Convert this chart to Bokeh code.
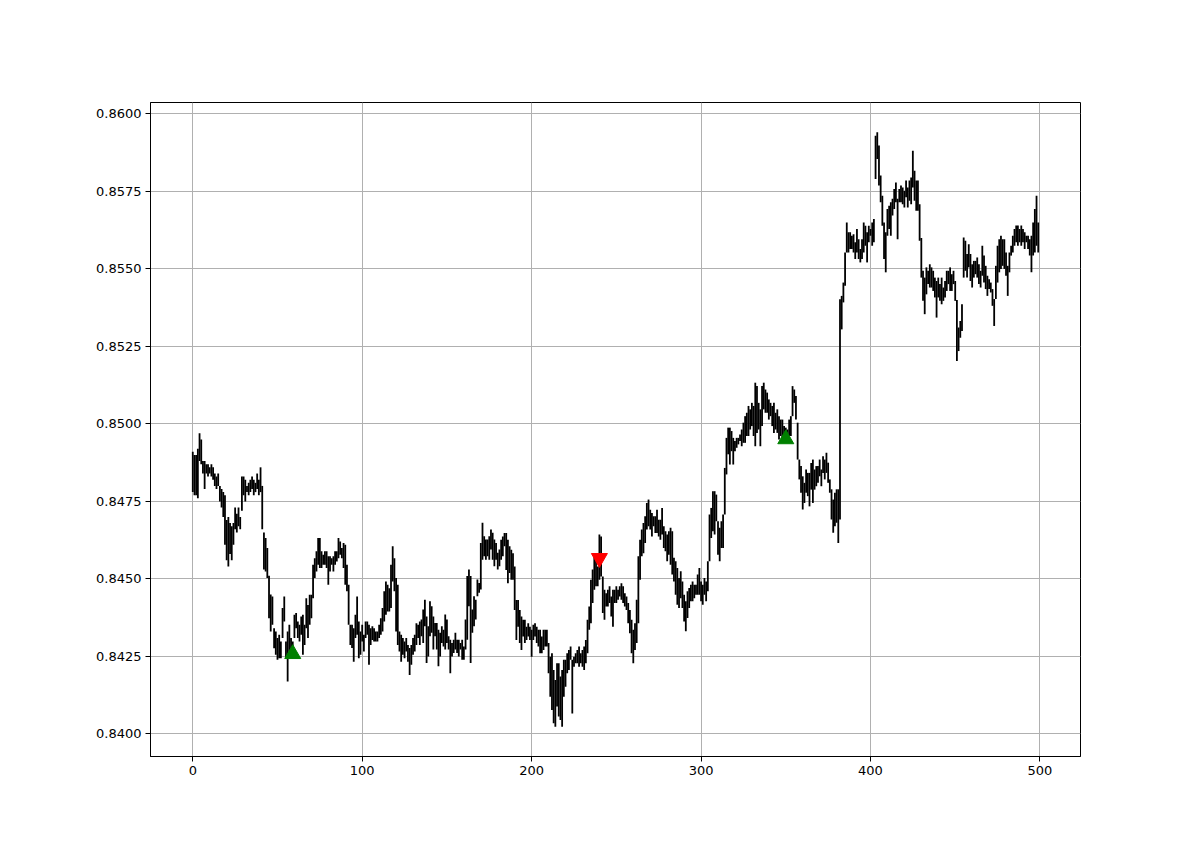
from bokeh.plotting import figure
from bokeh.models import Range1d, FixedTicker, PrintfTickFormatter, ColumnDataSource
from bokeh.embed import file_html
from bokeh.resources import INLINE

# price x 100000, one entry per bar (0..499)
high_e5 = [
84910, 84900, 84900, 84920, 84970, 84950, 84880, 84880, 84870, 84870,
84860, 84870, 84860, 84840, 84830, 84840, 84800, 84790, 84780, 84770,
84690, 84700, 84680, 84670, 84680, 84730, 84710, 84730, 84700, 84830,
84830, 84820, 84800, 84810, 84820, 84830, 84820, 84810, 84840, 84820,
84860, 84800, 84650, 84632, 84600, 84510, 84450, 84443, 84341, 84330,
84309, 84320, 84298, 84406, 84443, 84298, 84330, 84352, 84309, 84298,
84384, 84390, 84363, 84352, 84379, 84384, 84352, 84438, 84416, 84449,
84449, 84546, 84567, 84589, 84632, 84632, 84589, 84578, 84589, 84589,
84573, 84573, 84567, 84573, 84589, 84589, 84632, 84621, 84600, 84616,
84610, 84546, 84481, 84352, 84352, 84341, 84384, 84443, 84363, 84330,
84352, 84320, 84363, 84363, 84352, 84341, 84347, 84341, 84330, 84330,
84352, 84373, 84406, 84460, 84492, 84481, 84470, 84546, 84605, 84567,
84503, 84481, 84330, 84320, 84309, 84298, 84309, 84287, 84277, 84287,
84309, 84320, 84357, 84352, 84363, 84369, 84401, 84433, 84379, 84347,
84428, 84412, 84379, 84358, 84358, 84336, 84326, 84347, 84336, 84385,
84369, 84315, 84304, 84293, 84304, 84326, 84304, 84304, 84293, 84304,
84282, 84369, 84509, 84530, 84509, 84401, 84444, 84433, 84498, 84487,
84616, 84681, 84638, 84627, 84627, 84638, 84659, 84649, 84627, 84616,
84584, 84595, 84626, 84637, 84648, 84648, 84626, 84605, 84594, 84583,
84540, 84432, 84432, 84400, 84379, 84368, 84368, 84346, 84357, 84346,
84336, 84352, 84357, 84346, 84336, 84336, 84314, 84336, 84336, 84336,
84293, 84249, 84260, 84206, 84174, 84228, 84228, 84185, 84206, 84239,
84239, 84260, 84271, 84282, 84239, 84249, 84260, 84271, 84282, 84260,
84271, 84282, 84303, 84368, 84411, 84497, 84530, 84573, 84562, 84540,
84643, 84637, 84508, 84465, 84454, 84465, 84476, 84443, 84465, 84465,
84476, 84465, 84476, 84486, 84476, 84454, 84443, 84422, 84400, 84368,
84336, 84357, 84433, 84573, 84626, 84659, 84680, 84702, 84745, 84756,
84723, 84713, 84702, 84702, 84723, 84691, 84691, 84729, 84670, 84654,
84643, 84654, 84665, 84654, 84568, 84557, 84535, 84503, 84525, 84492,
84449, 84428, 84460, 84471, 84481, 84492, 84481, 84481, 84514, 84535,
84492, 84481, 84503, 84492, 84557, 84708, 84729, 84783, 84783, 84772,
84686, 84665, 84686, 84708, 84858, 84955, 84988, 84988, 84977, 84955,
84945, 84955, 84955, 84966, 84982, 85004, 85025, 85036, 85058, 85047,
85068, 85058, 85133, 85122, 85068, 85047, 85122, 85133, 85111, 85101,
85079, 85068, 85058, 85068, 85036, 85047, 85025, 85014, 85014, 84993,
84988, 84982, 85014, 85025, 85122, 85111, 85090, 85004, 84885, 84864,
84831, 84810, 84853, 84842, 84842, 84874, 84885, 84853, 84864, 84864,
84885, 84853, 84896, 84885, 84907, 84875, 84821, 84789, 84756, 84778,
84789, 84789, 85402, 85413, 85456, 85553, 85650, 85618, 85618, 85607,
85612, 85586, 85629, 85596, 85564, 85596, 85650, 85639, 85618, 85639,
85629, 85650, 85661, 85930, 85941, 85898, 85801, 85736, 85650, 85618,
85693, 85704, 85715, 85726, 85758, 85779, 85726, 85758, 85769, 85763,
85752, 85785, 85763, 85785, 85795, 85881, 85817, 85785, 85785, 85709,
85600, 85494, 85472, 85505, 85494, 85515, 85505, 85494, 85472, 85461,
85472, 85451, 85472, 85440, 85461, 85494, 85494, 85505, 85483, 85494,
85461, 85400, 85311, 85332, 85386, 85601, 85591, 85548, 85580, 85548,
85515, 85526, 85526, 85537, 85515, 85494, 85575, 85543, 85510, 85478,
85467, 85456, 85435, 85403, 85510, 85575, 85596, 85607, 85596, 85596,
85553, 85510, 85553, 85575, 85607, 85629, 85640, 85640, 85629, 85640,
85629, 85618, 85607, 85607, 85596, 85607, 85650, 85693, 85736, 85650,
]

low_e5 = [
84780, 84770, 84770, 84760, 84880, 84870, 84840, 84790, 84840, 84830,
84840, 84830, 84820, 84800, 84790, 84800, 84750, 84730, 84700, 84610,
84560, 84540, 84580, 84560, 84610, 84660, 84650, 84670, 84660, 84720,
84770, 84750, 84780, 84770, 84780, 84790, 84770, 84780, 84790, 84770,
84780, 84660, 84530, 84524, 84503, 84373, 84330, 84352, 84276, 84255,
84239, 84244, 84244, 84309, 84363, 84244, 84169, 84266, 84255, 84244,
84309, 84341, 84309, 84298, 84320, 84255, 84287, 84341, 84309, 84352,
84373, 84438, 84503, 84524, 84546, 84535, 84535, 84546, 84546, 84535,
84481, 84524, 84546, 84524, 84546, 84556, 84567, 84578, 84567, 84535,
84481, 84460, 84352, 84287, 84277, 84233, 84309, 84320, 84244, 84255,
84298, 84266, 84309, 84320, 84223, 84287, 84303, 84298, 84298, 84298,
84309, 84320, 84330, 84363, 84384, 84395, 84395, 84406, 84492, 84460,
84330, 84287, 84266, 84233, 84255, 84244, 84266, 84233, 84190, 84223,
84255, 84266, 84287, 84309, 84287, 84315, 84293, 84347, 84229, 84250,
84315, 84326, 84272, 84315, 84272, 84218, 84250, 84293, 84282, 84272,
84293, 84272, 84196, 84250, 84261, 84272, 84261, 84250, 84272, 84239,
84239, 84272, 84304, 84412, 84229, 84326, 84347, 84369, 84444, 84455,
84466, 84562, 84573, 84562, 84573, 84562, 84595, 84562, 84541, 84562,
84530, 84541, 84562, 84573, 84605, 84529, 84486, 84519, 84497, 84497,
84400, 84303, 84346, 84293, 84271, 84314, 84293, 84303, 84314, 84303,
84249, 84303, 84314, 84293, 84282, 84260, 84260, 84271, 84282, 84282,
84196, 84120, 84077, 84034, 84023, 84088, 84056, 84045, 84023, 84120,
84152, 84196, 84206, 84239, 84066, 84217, 84228, 84228, 84217, 84228,
84217, 84206, 84228, 84260, 84336, 84357, 84422, 84465, 84476, 84476,
84497, 84508, 84390, 84368, 84411, 84411, 84422, 84379, 84346, 84422,
84422, 84433, 84443, 84433, 84422, 84411, 84400, 84357, 84325, 84260,
84228, 84271, 84293, 84357, 84497, 84573, 84583, 84616, 84659, 84670,
84659, 84637, 84670, 84648, 84648, 84637, 84626, 84643, 84600, 84589,
84557, 84578, 84546, 84514, 84492, 84449, 84417, 84406, 84438, 84406,
84363, 84331, 84374, 84406, 84428, 84428, 84438, 84449, 84449, 84449,
84428, 84417, 84449, 84428, 84460, 84557, 84632, 84654, 84643, 84686,
84578, 84557, 84600, 84600, 84708, 84837, 84902, 84869, 84912, 84869,
84912, 84923, 84934, 84945, 84928, 84939, 84939, 84961, 84961, 84982,
84993, 84961, 84928, 84971, 84982, 84928, 84993, 85047, 85036, 85036,
85014, 85025, 84993, 84971, 84982, 84971, 84950, 84961, 84950, 84939,
84961, 84939, 84961, 84961, 85025, 85068, 85014, 84885, 84821, 84778,
84724, 84745, 84778, 84767, 84734, 84788, 84745, 84788, 84799, 84810,
84831, 84799, 84842, 84821, 84842, 84810, 84778, 84692, 84649, 84670,
84681, 84616, 84692, 85305, 85392, 85446, 85553, 85553, 85564, 85564,
85553, 85532, 85553, 85532, 85521, 85532, 85553, 85575, 85521, 85586,
85607, 85575, 85586, 85790, 85855, 85769, 85715, 85639, 85532, 85489,
85607, 85629, 85607, 85672, 85693, 85715, 85596, 85715, 85715, 85709,
85698, 85731, 85698, 85720, 85709, 85763, 85720, 85688, 85688, 85591,
85472, 85397, 85354, 85418, 85451, 85440, 85440, 85429, 85408, 85343,
85408, 85397, 85386, 85397, 85408, 85429, 85451, 85429, 85429, 85451,
85397, 85203, 85235, 85278, 85300, 85472, 85494, 85472, 85505, 85461,
85440, 85472, 85483, 85472, 85451, 85440, 85478, 85456, 85435, 85413,
85435, 85424, 85381, 85316, 85403, 85456, 85489, 85500, 85510, 85500,
85478, 85413, 85489, 85543, 85553, 85575, 85586, 85575, 85586, 85575,
85586, 85564, 85586, 85564, 85543, 85489, 85543, 85553, 85575, 85553,
]

buy_x = [59, 350]
buy_y = [0.84258, 0.84951]
sell_x = [240]
sell_y = [0.84567]

x_ticks = [0, 100, 200, 300, 400, 500]
y_ticks = [0.8400, 0.8425, 0.8450, 0.8475, 0.8500, 0.8525, 0.8550, 0.8575, 0.8600]

assert len(high_e5) == len(low_e5), (len(high_e5), len(low_e5))

high = [v / 100000 for v in high_e5]
low = [v / 100000 for v in low_e5]
idx = list(range(len(high)))

n = len(idx)
xpad = (n - 1) * 0.05
ymin, ymax = min(low), max(high)
ypad = (ymax - ymin) * 0.05

p = figure(
    output_backend="svg", toolbar_location=None,
    frame_width=930, frame_height=654,
    min_border_left=150, min_border_right=110,
    min_border_top=102, min_border_bottom=80,
    x_range=Range1d(-xpad, n - 1 + xpad),
    y_range=Range1d(ymin - ypad, ymax + ypad),
    background_fill_color="white", border_fill_color="white",
)

src = ColumnDataSource(dict(x=idx, lo=low, hi=high))
p.segment(x0="x", y0="lo", x1="x", y1="hi", source=src,
          line_color="black", line_width=1.8)

p.scatter(buy_x, buy_y, marker="triangle", size=16,
          fill_color="green", line_color="green")
p.scatter(sell_x, sell_y, marker="inverted_triangle", size=16,
          fill_color="red", line_color="red")

p.outline_line_color = "black"
p.outline_line_width = 1
p.outline_line_alpha = 1

p.xaxis.ticker = FixedTicker(ticks=x_ticks)
p.yaxis.ticker = FixedTicker(ticks=y_ticks)
p.yaxis.formatter = PrintfTickFormatter(format="%.4f")

for ax in (p.xaxis[0], p.yaxis[0]):
    ax.axis_line_color = "black"
    ax.axis_line_width = 1
    ax.major_tick_line_color = "black"
    ax.major_tick_in = 0
    ax.major_tick_out = 5
    ax.minor_tick_line_color = None
    ax.major_label_text_font = "DejaVu Sans"
    ax.major_label_text_font_size = "13px"
    ax.major_label_text_color = "black"
    ax.major_label_standoff = 4

p.xgrid.grid_line_color = "#b0b0b0"
p.ygrid.grid_line_color = "#b0b0b0"
p.xgrid.grid_line_width = 1
p.ygrid.grid_line_width = 1

open("out.html", "w").write(file_html(p, INLINE))
